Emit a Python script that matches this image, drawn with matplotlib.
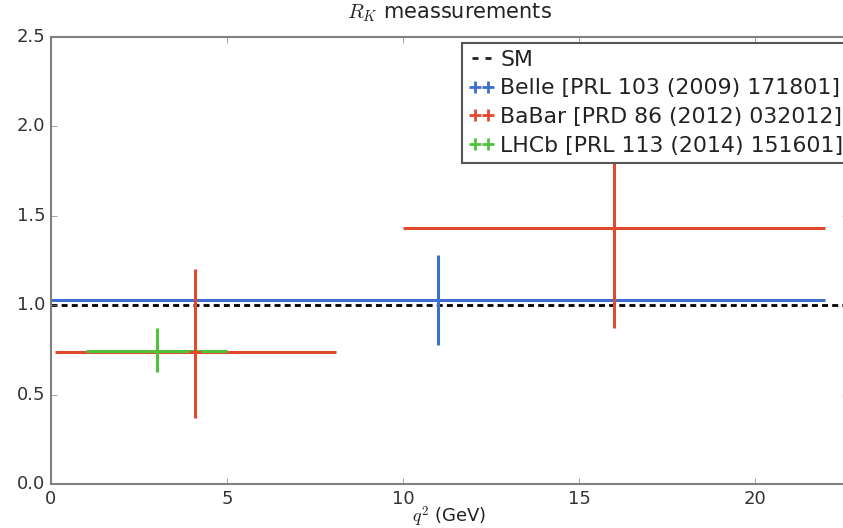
import matplotlib
matplotlib.use("Agg")
import matplotlib.pyplot as plt
from matplotlib.lines import Line2D

plt.style.use("classic")
plt.rcParams["lines.scale_dashes"] = False

# data
sm_value = 1.0
belle_x = [11.0]
belle_xerr = [11.0]
belle_y = [1.03]
belle_yerr_lo = [0.25]
belle_yerr_hi = [0.25]

babar_x = [4.1, 16.0]
babar_xerr = [4.0, 6.0]
babar_y = [0.74, 1.43]
babar_yerr_lo = [0.37, 0.56]
babar_yerr_hi = [0.46, 0.65]

lhcb_x = [3.0]
lhcb_xerr = [2.0]
lhcb_y = [0.745]
lhcb_yerr_lo = [0.12]
lhcb_yerr_hi = [0.125]

labels = ["SM", "Belle [PRL 103 (2009) 171801]", "BaBar [PRD 86 (2012) 032012]",
          "LHCb [PRL 113 (2014) 151601]"]
colors = ["#3d6fcf", "#e04a2e", "#4fc23a"]

W, H = 843, 528
fig = plt.figure(figsize=(W / 100, H / 100), dpi=100, facecolor="white")
left, right, top, bottom = 51, 848, 37, 484
ax = fig.add_axes([left / W, 1 - bottom / H, (right - left) / W, (bottom - top) / H])

ax.axhline(sm_value, color="black", ls="--", lw=2, dashes=(4.3, 3.0))
series = [(belle_x, belle_y, belle_xerr, belle_yerr_lo, belle_yerr_hi),
          (babar_x, babar_y, babar_xerr, babar_yerr_lo, babar_yerr_hi),
          (lhcb_x, lhcb_y, lhcb_xerr, lhcb_yerr_lo, lhcb_yerr_hi)]
for (x, y, xe, ylo, yhi), c in zip(series, colors):
    ax.errorbar(x, y, xerr=xe, yerr=[ylo, yhi], fmt="+", color=c, ecolor=c,
                elinewidth=2.2, capsize=0, mew=2, ms=8)

handles = [Line2D([], [], color="#222222", ls="none", marker="_", ms=5, mew=2)]
for c in colors:
    handles.append(Line2D([], [], color=c, ls="none", marker="+", ms=9, mew=2))

ax.set_xlim(0, (right - left) / 35.2)
ax.set_ylim(0, 2.5)
ax.set_xticks([0, 5, 10, 15, 20])
ax.set_yticks([0.0, 0.5, 1.0, 1.5, 2.0, 2.5])
ax.set_yticklabels(["0.0", "0.5", "1.0", "1.5", "2.0", "2.5"])
for s in ax.spines.values():
    s.set_color("#808080")
    s.set_linewidth(1.5)
ax.tick_params(direction="in", length=4, color="#808080", labelsize=13, pad=4)
ax.tick_params(axis="both", labelcolor="#333333")

ax.set_title("$R_K$ meassurements", fontsize=15, color="#222222", pad=13)
ax.set_xlabel("$q^2$ (GeV)", fontsize=13, color="#222222", labelpad=-2)

leg = ax.legend(handles, labels, loc="upper left", bbox_to_anchor=(462 / W, 1 - 43 / H),
                bbox_transform=fig.transFigure, borderaxespad=0, fontsize=15.8,
                numpoints=2, handlelength=1.2, handletextpad=0.25, borderpad=0.3,
                labelspacing=0.4, fancybox=False, frameon=True)
leg.get_frame().set_edgecolor("#555555")
leg.get_frame().set_linewidth(1.5)
for t in leg.get_texts():
    t.set_color("#222222")

fig.savefig("out.png", dpi=100, facecolor="white")
